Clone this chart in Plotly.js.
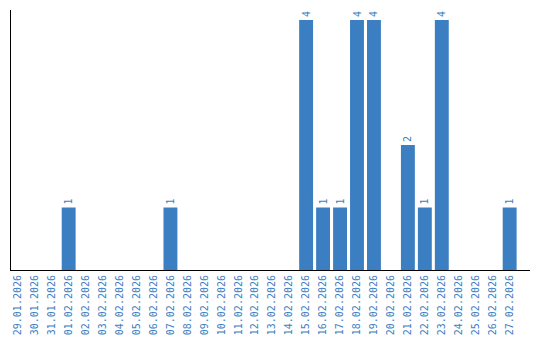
<!DOCTYPE html>
<html>
<head>
<meta charset="utf-8">
<script src="https://cdn.plot.ly/plotly-3.0.1.min.js"></script>
<style>html,body{margin:0;padding:0;background:#fff;}#chart{width:540px;height:340px;}</style>
</head>
<body>
<div id="chart"></div>
<script>
const dates = ["29.01.2026","30.01.2026","31.01.2026","01.02.2026","02.02.2026","03.02.2026","04.02.2026","05.02.2026","06.02.2026","07.02.2026","08.02.2026","09.02.2026","10.02.2026","11.02.2026","12.02.2026","13.02.2026","14.02.2026","15.02.2026","16.02.2026","17.02.2026","18.02.2026","19.02.2026","20.02.2026","21.02.2026","22.02.2026","23.02.2026","24.02.2026","25.02.2026","26.02.2026","27.02.2026"];
const counts = [0,0,0,1,0,0,0,0,0,1,0,0,0,0,0,0,0,4,1,1,4,4,0,2,1,4,0,0,0,1];
const labels = counts.map(v => v > 0 ? String(v) : "");
const blue = "#3b7ec2";

Plotly.newPlot("chart", [{
  type: "bar",
  x: dates,
  y: counts,
  text: labels,
  textposition: "outside",
  textangle: -90,
  cliponaxis: false,
  textfont: {family: "DejaVu Sans Mono, monospace", size: 10, color: blue},
  marker: {color: blue},
  hoverinfo: "none"
}], {
  width: 540, height: 340,
  margin: {l: 11, r: 10, t: 10, b: 70, pad: 0},
  paper_bgcolor: "#fff", plot_bgcolor: "#fff",
  bargap: 0.18,
  showlegend: false,
  xaxis: {
    type: "category",
    range: [-0.4, 30.2],
    tickangle: -90,
    tickfont: {family: "DejaVu Sans Mono, monospace", size: 10, color: blue},
    showline: true, linecolor: "#000", linewidth: 1,
    showgrid: false, zeroline: false, ticks: "", ticklen: 0
  },
  yaxis: {
    range: [0, 4.16],
    showticklabels: false,
    showline: true, linecolor: "#000", linewidth: 1,
    showgrid: false, zeroline: false, ticks: ""
  }
}, {displayModeBar: false, staticPlot: true});
</script>
</body>
</html>
